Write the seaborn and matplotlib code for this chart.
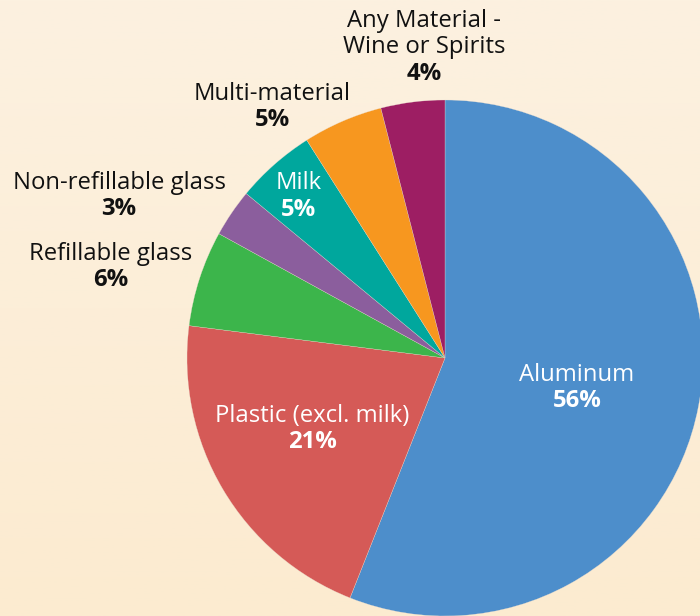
import numpy as np
import matplotlib
matplotlib.use("Agg")
import matplotlib.pyplot as plt
import seaborn as sns

# ---- data ----
categories = ["Aluminum", "Plastic (excl. milk)", "Refillable glass",
              "Non-refillable glass", "Milk", "Multi-material",
              "Any Material -\nWine or Spirits"]
shares = [56, 21, 6, 3, 5, 5, 4]
pct_labels = ["56%", "21%", "6%", "3%", "5%", "5%", "4%"]
colors = ["#4D8ECB", "#D55A57", "#3CB54B", "#8B5E9D", "#00A79D", "#F7971F", "#9D1E63"]
inside = [True, True, False, False, True, False, False]

# label layout (pixel positions of name baseline / percent baseline, x centre)
label_x = [577, 312, 111, 119, 299, 272, 424]
name_base = [381, 422, 260, 189, 189, 100, 53]
pct_base = [407, 448, 286, 215, 216, 126, 80]

sns.set_theme(style="white")
plt.rcParams["font.family"] = ["Open Sans", "DejaVu Sans"]

W, H, DPI = 700, 616, 100
fig = plt.figure(figsize=(W / DPI, H / DPI), dpi=DPI)

# background gradient
bg = fig.add_axes([0, 0, 1, 1], zorder=0)
grad = np.linspace(0, 1, 256).reshape(-1, 1)
top = np.array([252, 241, 224]) / 255
bot = np.array([252, 235, 208]) / 255
img = top + (bot - top) * grad[:, :, None]
bg.imshow(img, aspect="auto", extent=[0, 1, 0, 1])
bg.axis("off")

cx, cy, R = 445, 358, 258
ax = fig.add_axes([0, 0, 1, 1], zorder=1)
ax.patch.set_alpha(0)
ax.pie(shares, colors=colors, startangle=90, counterclock=False, radius=1,
       wedgeprops=dict(edgecolor="#e8dccf", linewidth=0.2))
ax.set_aspect("auto")
ax.set_xlim(-cx / R, (W - cx) / R)
ax.set_ylim(-(H - cy) / R, cy / R)
ax.axis("off")

FS = 17.2
for name, pct, x, nb, pb, ins in zip(categories, pct_labels, label_x,
                                     name_base, pct_base, inside):
    col = "white" if ins else "#111111"
    lines = name.split("\n")
    n = len(lines)
    for i, ln in enumerate(lines):
        yb = nb - (n - 1 - i) * 26
        fig.text(x / W, 1 - yb / H, ln, ha="center", va="baseline",
                 fontsize=FS, color=col, zorder=3)
    fig.text(x / W, 1 - pb / H, pct, ha="center", va="baseline",
             fontsize=FS, fontweight="bold", color=col, zorder=3)

fig.savefig("out.png", dpi=DPI)
